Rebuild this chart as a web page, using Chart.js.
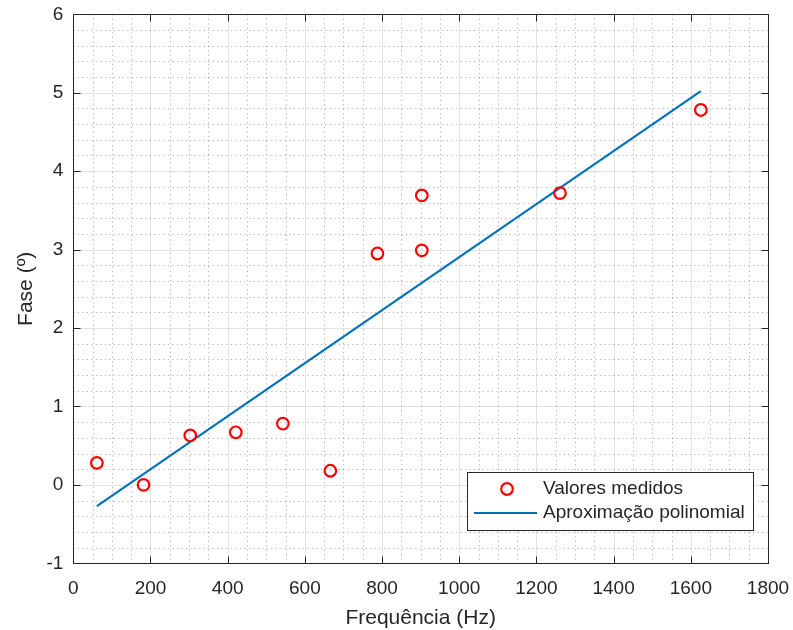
<!DOCTYPE html>
<html>
<head>
<meta charset="utf-8">
<script src="https://cdn.jsdelivr.net/npm/chart.js@4/dist/chart.umd.min.js"></script>
<style>
  html, body { margin: 0; padding: 0; background: #ffffff; }
  #wrap { width: 793px; height: 630px; position: relative; }
</style>
</head>
<body>
<div id="wrap"><canvas id="c" width="793" height="630"></canvas></div>
<script>
// ---- data ----
const freqMeasured = [61, 182, 303, 421, 543, 666, 788, 903, 903, 1261, 1626];
const phaseMeasured = [0.28, 0.00, 0.63, 0.67, 0.78, 0.18, 2.95, 3.69, 2.99, 3.72, 4.78];
const fitFreq = [61, 1626];
const fitPhase = [-0.27, 5.02];
const xTicks = [0, 200, 400, 600, 800, 1000, 1200, 1400, 1600, 1800];
const yTicks = [-1, 0, 1, 2, 3, 4, 5, 6];
const seriesNames = ['Valores medidos', 'Aproximação polinomial'];
const xTitle = 'Frequência (Hz)';
const yTitle = 'Fase (º)';

const FONT = 'Liberation Sans, Arial, Helvetica, sans-serif';
const TXT = '#262626';
const RED = '#ff0000';
const BLUE = '#0072bd';

const gridPlugin = {
  id: 'matlabGrid',
  beforeDatasetsDraw(chart) {
    const {ctx, chartArea: a, scales: {x, y}} = chart;
    ctx.save();
    ctx.beginPath();
    ctx.rect(a.left, a.top, a.right - a.left, a.bottom - a.top);
    ctx.clip();
    // minor grid (dotted)
    ctx.strokeStyle = 'rgba(38,38,38,0.35)';
    ctx.lineWidth = 1;
    ctx.setLineDash([1.2, 3.3]);
    for (let v = x.min; v <= x.max + 1e-9; v += 50) {
      if (Math.abs(v % 200) < 1e-6) continue;
      const px = Math.round(x.getPixelForValue(v)) + 0.5;
      ctx.beginPath(); ctx.moveTo(px, a.top); ctx.lineTo(px, a.bottom); ctx.stroke();
    }
    for (let i = 0; i <= 35; i++) {
      const v = y.min + i * 0.2;
      if (i % 5 === 0) continue;
      const py = Math.round(y.getPixelForValue(v)) + 0.5;
      ctx.beginPath(); ctx.moveTo(a.left, py); ctx.lineTo(a.right, py); ctx.stroke();
    }
    // major grid
    ctx.setLineDash([]);
    ctx.strokeStyle = 'rgba(38,38,38,0.13)';
    xTicks.forEach(v => {
      const px = Math.round(x.getPixelForValue(v)) + 0.5;
      ctx.beginPath(); ctx.moveTo(px, a.top); ctx.lineTo(px, a.bottom); ctx.stroke();
    });
    yTicks.forEach(v => {
      const py = Math.round(y.getPixelForValue(v)) + 0.5;
      ctx.beginPath(); ctx.moveTo(a.left, py); ctx.lineTo(a.right, py); ctx.stroke();
    });
    ctx.restore();
  },
  afterDatasetsDraw(chart) {
    const {ctx, chartArea: a, scales: {x, y}} = chart;
    ctx.save();
    ctx.strokeStyle = TXT;
    ctx.lineWidth = 1;
    const L = Math.round(a.left) + 0.5, R = Math.round(a.right) + 0.5;
    const T = Math.round(a.top) + 0.5, B = Math.round(a.bottom) + 0.5;
    ctx.strokeRect(L, T, R - L, B - T);
    const tl = 7;
    xTicks.forEach(v => {
      const px = Math.round(x.getPixelForValue(v)) + 0.5;
      ctx.beginPath();
      ctx.moveTo(px, B); ctx.lineTo(px, B - tl);
      ctx.moveTo(px, T); ctx.lineTo(px, T + tl);
      ctx.stroke();
    });
    yTicks.forEach(v => {
      const py = Math.round(y.getPixelForValue(v)) + 0.5;
      ctx.beginPath();
      ctx.moveTo(L, py); ctx.lineTo(L + tl, py);
      ctx.moveTo(R, py); ctx.lineTo(R - tl, py);
      ctx.stroke();
    });
    // legend
    const bx = 467.5, by = 472.5, bw = 286, bh = 58;
    ctx.fillStyle = '#ffffff';
    ctx.fillRect(bx, by, bw, bh);
    ctx.strokeRect(bx, by, bw, bh);
    ctx.strokeStyle = RED;
    ctx.lineWidth = 2.2;
    ctx.beginPath(); ctx.arc(507, 489, 5.8, 0, Math.PI * 2); ctx.stroke();
    ctx.strokeStyle = BLUE;
    ctx.beginPath(); ctx.moveTo(474, 513); ctx.lineTo(537, 513); ctx.stroke();
    ctx.fillStyle = TXT;
    ctx.font = '19px ' + FONT;
    ctx.textBaseline = 'middle';
    ctx.textAlign = 'left';
    ctx.fillText(seriesNames[0], 543, 489);
    ctx.fillText(seriesNames[1], 543, 513);
    ctx.restore();
  }
};

new Chart(document.getElementById('c'), {
  type: 'scatter',
  data: {
    datasets: [
      {
        label: seriesNames[0],
        data: freqMeasured.map((f, i) => ({x: f, y: phaseMeasured[i]})),
        showLine: false,
        pointStyle: 'circle',
        pointRadius: 5.8,
        pointBorderWidth: 2.2,
        pointBorderColor: RED,
        pointBackgroundColor: 'rgba(0,0,0,0)',
        order: 1
      },
      {
        label: seriesNames[1],
        type: 'line',
        data: fitFreq.map((f, i) => ({x: f, y: fitPhase[i]})),
        showLine: true,
        borderColor: BLUE,
        borderWidth: 2.2,
        pointRadius: 0,
        fill: false,
        order: 2
      }
    ]
  },
  options: {
    responsive: false,
    animation: false,
    devicePixelRatio: 1,
    layout: { padding: { top: 14.3, right: 25, bottom: 0, left: 0 } },
    plugins: { legend: { display: false }, tooltip: { enabled: false } },
    scales: {
      x: {
        type: 'linear',
        min: 0, max: 1800,
        afterBuildTicks: s => { s.ticks = xTicks.map(v => ({value: v})); },
        afterFit: s => { s.height = 66.7; s.paddingLeft = 0; s.paddingRight = 0; },
        grid: { display: false, drawTicks: false },
        border: { display: false },
        ticks: { color: TXT, font: { family: FONT, size: 19 }, padding: 14, maxRotation: 0, callback: v => String(v) },
        title: { display: true, text: xTitle, color: TXT, font: { family: FONT, size: 21, lineHeight: 1.1 }, padding: { top: 0, bottom: 0 } }
      },
      y: {
        type: 'linear',
        min: -1, max: 6,
        afterBuildTicks: s => { s.ticks = yTicks.map(v => ({value: v})); },
        afterFit: s => { s.width = 73.3; s.paddingTop = 0; s.paddingBottom = 0; },
        grid: { display: false, drawTicks: false },
        border: { display: false },
        ticks: { color: TXT, font: { family: FONT, size: 19 }, padding: 10, callback: v => String(v) },
        title: { display: true, text: yTitle, color: TXT, font: { family: FONT, size: 21, lineHeight: 1.1 }, padding: { top: 14.5, bottom: 0 } }
      }
    }
  },
  plugins: [gridPlugin]
});
</script>
</body>
</html>
